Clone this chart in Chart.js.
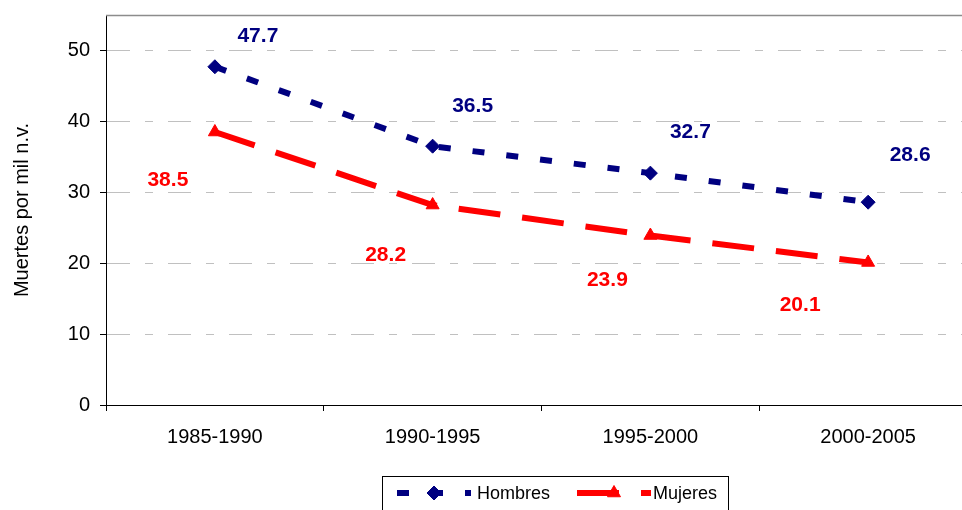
<!DOCTYPE html>
<html>
<head>
<meta charset="utf-8">
<script src="https://cdn.jsdelivr.net/npm/chart.js@4/dist/chart.umd.min.js"></script>
<style>
  html, body { margin: 0; padding: 0; background: #fff; overflow: hidden; width: 962px; height: 510px; }
  #wrap { width: 990px; height: 512px; }
</style>
</head>
<body>
<div id="wrap"><canvas id="c" width="990" height="512"></canvas></div>
<script>
// ---- data ----
const categories = ['1985-1990', '1990-1995', '1995-2000', '2000-2005'];
const hombres = [47.7, 36.5, 32.7, 28.6];
const mujeres = [38.5, 28.2, 23.9, 20.1];
const seriesNames = ['Hombres', 'Mujeres'];
const yTicks = [0, 10, 20, 30, 40, 50];
const yTitle = 'Muertes por mil n.v.';

// ---- styles ----
const NAVY = '#000080';
const RED = '#FF0000';
const FONT = '"Liberation Sans", Arial, sans-serif';
// label offsets (px) relative to each point
const labelOffsets = [
  [[43, -31], [40, -40], [40, -41], [42, -47]],
  [[-47, 48], [-47, 50], [-43, 45], [-68, 43]]
];

const valueLabels = {
  id: 'valueLabels',
  afterDatasetsDraw(chart) {
    const ctx = chart.ctx;
    ctx.save();
    ctx.font = 'bold 21px ' + FONT;
    ctx.textAlign = 'center';
    ctx.textBaseline = 'middle';
    chart.data.datasets.forEach((ds, di) => {
      const meta = chart.getDatasetMeta(di);
      ctx.fillStyle = ds.borderColor;
      meta.data.forEach((pt, i) => {
        const o = labelOffsets[di][i];
        ctx.fillText(ds.data[i].toFixed(1), pt.x + o[0], pt.y + o[1]);
      });
    });
    ctx.restore();
  }
};

const frameAndLegend = {
  id: 'frameAndLegend',
  afterDraw(chart) {
    const ctx = chart.ctx;
    const a = chart.chartArea;
    ctx.save();
    // top border of plot area
    ctx.strokeStyle = '#8c8c8c';
    ctx.lineWidth = 1.5;
    ctx.beginPath();
    ctx.moveTo(a.left, a.top + 0.5);
    ctx.lineTo(a.right, a.top + 0.5);
    ctx.stroke();

    // legend box
    const bx = 382.5, by = 476.5, bw = 346, bh = 40;
    ctx.strokeStyle = '#000';
    ctx.lineWidth = 1;
    ctx.strokeRect(bx, by, bw, bh);
    const ly = 493;
    const items = [
      { x0: 397, len: 74, textX: 477 },
      { x0: 577, len: 74, textX: 653 }
    ];
    chart.data.datasets.forEach((ds, di) => {
      const it = items[di];
      ctx.save();
      ctx.strokeStyle = ds.borderColor;
      ctx.lineWidth = ds.borderWidth;
      ctx.lineCap = 'butt';
      ctx.setLineDash(ds.borderDash);
      ctx.beginPath();
      ctx.moveTo(it.x0, ly);
      ctx.lineTo(it.x0 + it.len, ly);
      ctx.stroke();
      ctx.restore();
      ctx.save();
      ctx.fillStyle = ds.pointBackgroundColor;
      ctx.strokeStyle = ds.pointBorderColor;
      ctx.lineWidth = 1;
      Chart.helpers.drawPoint(ctx, {
        pointStyle: ds.pointStyle,
        radius: ds.pointRadius,
        borderWidth: 1,
        rotation: 0
      }, it.x0 + it.len / 2, ly);
      ctx.fillStyle = '#000';
      ctx.font = '18px ' + FONT;
      ctx.textAlign = 'left';
      ctx.textBaseline = 'middle';
      ctx.fillText(ds.label, it.textX, ly + 1);
      ctx.restore();
    });
    ctx.restore();
  }
};

new Chart(document.getElementById('c'), {
  type: 'line',
  data: {
    labels: categories,
    datasets: [
      {
        label: seriesNames[0],
        data: hombres,
        borderColor: NAVY,
        backgroundColor: NAVY,
        borderWidth: 6,
        borderDash: [12, 22],
        borderCapStyle: 'butt',
        pointStyle: 'rectRot',
        pointRadius: 7,
        pointBackgroundColor: NAVY,
        pointBorderColor: NAVY,
        pointBorderWidth: 1,
        tension: 0,
        fill: false
      },
      {
        label: seriesNames[1],
        data: mujeres,
        borderColor: RED,
        backgroundColor: RED,
        borderWidth: 6,
        borderDash: [42, 22],
        borderCapStyle: 'butt',
        pointStyle: 'triangle',
        pointRadius: 7.5,
        pointBackgroundColor: RED,
        pointBorderColor: RED,
        pointBorderWidth: 1,
        tension: 0,
        fill: false
      }
    ]
  },
  options: {
    responsive: false,
    animation: false,
    devicePixelRatio: 1,
    layout: { padding: { left: 10, top: 15, right: 13, bottom: 0 } },
    plugins: {
      legend: { display: false },
      tooltip: { enabled: false },
      title: { display: false }
    },
    scales: {
      x: {
        type: 'category',
        offset: true,
        border: { display: true, color: '#000', width: 1 },
        grid: {
          display: true,
          offset: true,
          drawOnChartArea: false,
          drawTicks: true,
          tickLength: 6,
          tickColor: '#000',
          tickWidth: 1
        },
        ticks: {
          color: '#000',
          font: { family: FONT, size: 20 },
          padding: 14,
          maxRotation: 0
        },
        afterFit(s) { s.height = 107; s.paddingLeft = 0; s.paddingRight = 0; }
      },
      y: {
        min: 0,
        max: 55,
        border: { display: true, color: '#000', width: 1, dash: [23, 15, 8, 15] },
        grid: {
          color: (c) => c.tick && c.tick.value === 0 ? 'rgba(0,0,0,0)' : '#c0c0c0',
          lineWidth: 1,
          drawTicks: true,
          tickLength: 6,
          tickColor: '#000',
          tickWidth: 1,
          tickBorderDash: []
        },
        ticks: {
          stepSize: 10,
          color: '#000',
          font: { family: FONT, size: 20 },
          padding: 10
        },
        afterBuildTicks(s) {
          s.ticks = yTicks.map(v => ({ value: v }));
        },
        title: {
          display: true,
          text: yTitle,
          color: '#000',
          font: { family: FONT, size: 20 },
          padding: 0
        },
        afterFit(s) { s.width = 96; s.paddingTop = 0; s.paddingBottom = 0; }
      }
    }
  },
  plugins: [valueLabels, frameAndLegend]
});
</script>
</body>
</html>
